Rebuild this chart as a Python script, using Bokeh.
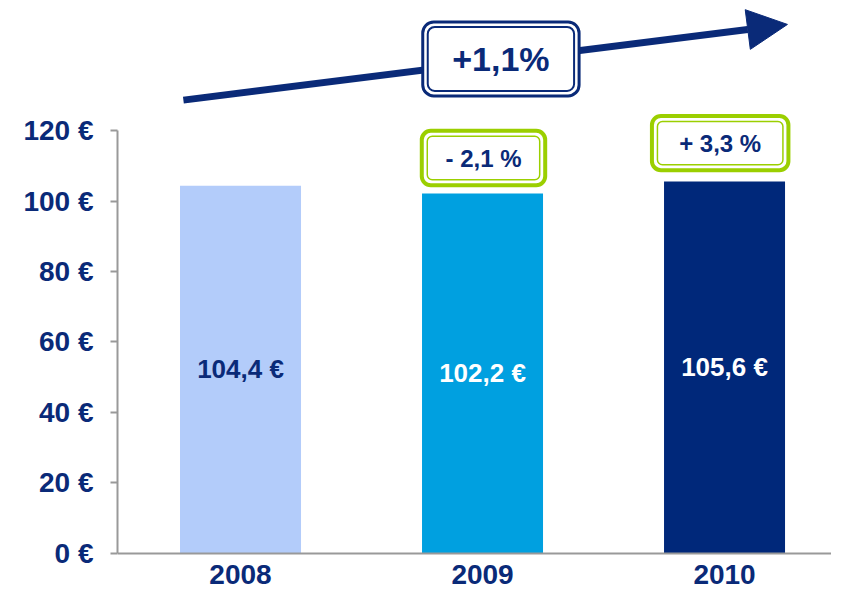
from bokeh.plotting import figure
from bokeh.models import (Range1d, FixedTicker, BoxAnnotation, Label, Arrow,
                          NormalHead, ColumnDataSource)
from bokeh.embed import file_html
from bokeh.resources import INLINE
from bokeh.core.properties import value

# ---- data ----
years = ["2008", "2009", "2010"]
prices = [104.4, 102.2, 105.6]
price_labels = ["104,4 €", "102,2 €", "105,6 €"]
bar_colors = ["#B3CCFA", "#00A0E0", "#00287A"]
price_label_colors = ["#0A2A78", "#FFFFFF", "#FFFFFF"]
y_ticks = [0, 20, 40, 60, 80, 100, 120]
y_tick_labels = ["0 €", "20 €", "40 €", "60 €", "80 €", "100 €", "120 €"]
change_labels = ["- 2,1 %", "+ 3,3 %"]
total_change = "+1,1%"

NAVY = "#0A2A78"
LIME = "#9BCF00"
GREY = "#999999"
FONT = "Liberation Sans"

xs = [1, 2, 3]
PX_X = 242.0   # px per x unit
PX_Y = 3.52    # px per y unit

p = figure(width=831, height=592,
           x_range=Range1d(0.4917, 3.442), y_range=Range1d(-11.19, 157.0),
           output_backend="svg", toolbar_location=None,
           min_border_left=117, min_border_right=0,
           min_border_top=0, min_border_bottom=0)
p.outline_line_color = None
p.xgrid.visible = False
p.ygrid.visible = False
p.background_fill_color = "white"
p.border_fill_color = "white"

# bars
src = ColumnDataSource(dict(x=xs, top=prices, color=bar_colors,
                            mid=[v / 2 for v in prices], lab=price_labels,
                            lab_color=price_label_colors))
p.vbar(x="x", top="top", width=0.5, bottom=0, fill_color="color",
       line_color=None, source=src)
p.text(x="x", y="mid", text="lab", text_color="lab_color",
       text_font=value(FONT), text_font_style="bold", text_font_size="26px",
       text_align="center", text_baseline="middle", source=src)

# y axis
ya = p.yaxis[0]
ya.ticker = FixedTicker(ticks=y_ticks)
ya.major_label_overrides = {t: l for t, l in zip(y_ticks, y_tick_labels)}
ya.bounds = (0, 120)
ya.axis_line_color = GREY
ya.axis_line_width = 2
ya.major_tick_line_color = GREY
ya.major_tick_line_width = 2
ya.major_tick_out = 7
ya.major_tick_in = 0
ya.minor_tick_line_color = None
ya.major_label_standoff = 17
ya.major_label_text_font = FONT
ya.major_label_text_font_style = "bold"
ya.major_label_text_font_size = "28px"
ya.major_label_text_color = NAVY

# x axis
xa = p.xaxis[0]
xa.fixed_location = 0
xa.ticker = FixedTicker(ticks=xs)
xa.major_label_overrides = {x: y for x, y in zip(xs, years)}
xa.axis_line_color = GREY
xa.axis_line_width = 2
xa.major_tick_line_color = None
xa.major_tick_out = 0
xa.major_tick_in = 0
xa.minor_tick_line_color = None
xa.major_label_standoff = 12
xa.major_label_text_font = FONT
xa.major_label_text_font_style = "bold"
xa.major_label_text_font_size = "28px"
xa.major_label_text_color = NAVY

# trend arrow
x0, y0 = 0.764, 128.7
xb, yb = 3.096, 148.75
xt, yt = 3.26, 150.2
p.line(x=[x0, xb], y=[y0, yb], line_width=7, line_color=NAVY)
p.add_layout(Arrow(end=NormalHead(size=40, fill_color=NAVY, line_color=NAVY,
                                  line_width=1),
                   x_start=xb, y_start=yb, x_end=xt, y_end=yt, line_alpha=0))


def double_box(left, right, bottom, top, color, w_out, w_in, inset, r_out, r_in):
    p.add_layout(BoxAnnotation(left=left, right=right, bottom=bottom, top=top,
                               fill_color="white", fill_alpha=1.0,
                               line_color=color, line_alpha=1.0,
                               line_width=w_out, border_radius=r_out))
    dx = inset / PX_X
    dy = inset / PX_Y
    p.add_layout(BoxAnnotation(left=left + dx, right=right - dx,
                               bottom=bottom + dy, top=top - dy,
                               fill_alpha=0.0, line_color=color, line_alpha=1.0,
                               line_width=w_in, border_radius=r_in))


# total change box
double_box(1.753, 2.399, 129.9, 150.9, NAVY, 3, 2, 5, 11, 7)
p.add_layout(Label(x=(1.753 + 2.399) / 2, y=(129.9 + 150.9) / 2, text=total_change,
                   text_align="center", text_baseline="middle",
                   text_font=FONT, text_font_style="bold",
                   text_font_size="34px", text_color=NAVY))

# yearly change boxes
gboxes = [(1.749, 2.259, 104.5, 119.97), (2.700, 3.264, 108.8, 124.2)]
for (l, r, b, t), lab in zip(gboxes, change_labels):
    double_box(l, r, b, t, LIME, 4, 1.5, 5.5, 9, 5)
    p.add_layout(Label(x=(l + r) / 2, y=(b + t) / 2, text=lab,
                       text_align="center", text_baseline="middle",
                       text_font=FONT, text_font_style="bold",
                       text_font_size="24px", text_color=NAVY))

open("out.html", "w").write(file_html(p, INLINE))
